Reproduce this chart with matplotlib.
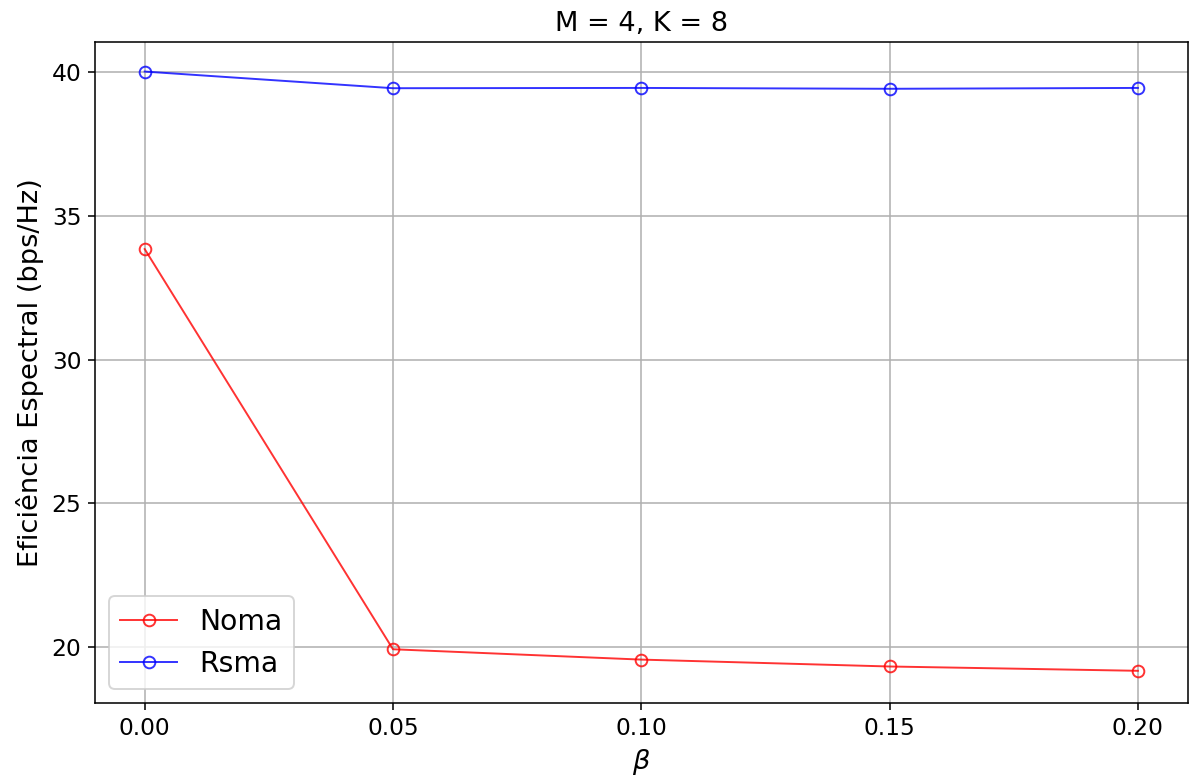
import matplotlib
matplotlib.use("Agg")
import matplotlib.pyplot as plt

# Data
beta = [0.0, 0.05, 0.10, 0.15, 0.20]
noma = [33.85, 19.92, 19.56, 19.32, 19.17]
rsma = [40.03, 39.45, 39.46, 39.43, 39.46]

fig = plt.figure(figsize=(1194 / 140, 781 / 140), dpi=140)
ax = fig.add_axes([0.0796, 0.0999, 0.915, 0.846])

ax.plot(beta, noma, color="red", marker="o", markerfacecolor="none",
        linewidth=1, alpha=0.8, label="Noma")
ax.plot(beta, rsma, color="blue", marker="o", markerfacecolor="none",
        linewidth=1, alpha=0.8, label="Rsma")

ax.set_xticks(beta)
ax.set_xticklabels(["0.00", "0.05", "0.10", "0.15", "0.20"])
ax.set_xlim(-0.01, 0.21)
ax.set_ylim(18.05, 41.05)
ax.tick_params(labelsize=12)
ax.set_xlabel(r"$\beta$", fontsize=14)
ax.set_ylabel("Eficiência Espectral (bps/Hz)", fontsize=14)
ax.set_title("M = 4, K = 8", fontsize=14)
ax.grid(True)
ax.legend(loc="lower left", fontsize=14.5)

fig.savefig("out.png", dpi=140)
